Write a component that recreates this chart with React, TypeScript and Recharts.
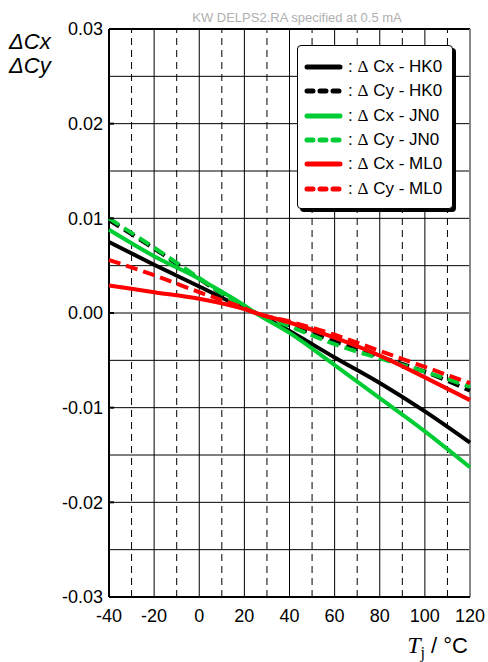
import { LineChart, Line, XAxis, YAxis, ReferenceLine, Legend } from 'recharts';

// temperature points (°C)
const temps = [-40, -20, 0, 20, 25, 40, 60, 80, 100, 120];

const cxHK0 = [0.0075, 0.0051, 0.0028, 0.0005, 0, -0.0019, -0.0047, -0.0074, -0.0104, -0.0137];
const cyHK0 = [0.0098, 0.0068, 0.0036, 0.0006, 0, -0.0013, -0.003, -0.0046, -0.0062, -0.0082];
const cxJN0 = [0.0088, 0.006, 0.0036, 0.0008, 0, -0.0021, -0.0055, -0.009, -0.0125, -0.0163];
const cyJN0 = [0.01, 0.0069, 0.0037, 0.0006, 0, -0.0014, -0.0033, -0.0048, -0.0062, -0.0078];
const cxML0 = [0.0029, 0.0022, 0.0015, 0.0004, 0, -0.001, -0.0026, -0.0045, -0.0068, -0.0092];
const cyML0 = [0.0056, 0.004, 0.0022, 0.0005, 0, -0.0009, -0.0023, -0.004, -0.0057, -0.0074];

const xTicks = [-40, -20, 0, 20, 40, 60, 80, 100, 120];
const yTicks = [-0.03, -0.02, -0.01, 0, 0.01, 0.02, 0.03];
const hGrid = [-0.025, -0.02, -0.015, -0.01, -0.005, 0, 0.005, 0.01, 0.015, 0.02, 0.025];
const vGridSolid = [-20, 0, 20, 40, 60, 80, 100];
const vGridDashed = [-30, -10, 10, 30, 50, 70, 90, 110];

const GREEN = '#00cc33';
const RED = '#ff0000';

const series = [
  { key: 'cxHK0', name: 'Cx - HK0', color: '#000', dashed: false },
  { key: 'cyHK0', name: 'Cy - HK0', color: '#000', dashed: true },
  { key: 'cxJN0', name: 'Cx - JN0', color: GREEN, dashed: false },
  { key: 'cyJN0', name: 'Cy - JN0', color: GREEN, dashed: true },
  { key: 'cxML0', name: 'Cx - ML0', color: RED, dashed: false },
  { key: 'cyML0', name: 'Cy - ML0', color: RED, dashed: true },
];

const data = temps.map((t, i) => ({
  t,
  cxHK0: cxHK0[i],
  cyHK0: cyHK0[i],
  cxJN0: cxJN0[i],
  cyJN0: cyJN0[i],
  cxML0: cxML0[i],
  cyML0: cyML0[i],
}));

const FONT = '"Liberation Sans", Arial, Helvetica, sans-serif';
const SERIF = '"Liberation Serif", "Times New Roman", serif';
const PLOT_LEFT = 109;

// y tick: label right-aligned left of the frame, short thick tick pointing inward
function YTick(props: any) {
  const { y, payload } = props;
  return (
    <g>
      <line x1={PLOT_LEFT} x2={PLOT_LEFT + 5} y1={y} y2={y} stroke="#000" strokeWidth={2} />
      <text x={PLOT_LEFT - 6} y={y} dy="0.355em" textAnchor="end" fontSize={18} fill="#000">
        {Number(payload.value).toFixed(2)}
      </text>
    </g>
  );
}

function LegendBox() {
  return (
    <div
      style={{
        boxSizing: 'border-box',
        width: 156,
        height: 164,
        border: '1.5px solid #000',
        borderRadius: 4,
        background: '#fff',
        boxShadow: '3px 3px 0 #000',
        paddingTop: 9,
        fontFamily: FONT,
        fontSize: 17,
        color: '#000',
      }}
    >
      {series.map((s) => (
        <div key={s.key} style={{ display: 'flex', alignItems: 'center', height: 24.3 }}>
          <svg width={50} height={10} style={{ flex: 'none' }}>
            <line
              x1={9}
              x2={42}
              y1={5}
              y2={5}
              stroke={s.color}
              strokeWidth={5}
              strokeLinecap="round"
              strokeDasharray={s.dashed ? '6 7' : undefined}
            />
          </svg>
          <span style={{ whiteSpace: 'nowrap' }}>
            : <span style={{ fontFamily: SERIF }}>Δ</span> {s.name}
          </span>
        </div>
      ))}
    </div>
  );
}

export default function App() {
  return (
    <div style={{ position: 'absolute', left: 0, top: 0, width: 488, height: 662, background: '#fff' }}>
      <LineChart
        width={488}
        height={662}
        data={data}
        margin={{ top: 29, right: 18, bottom: 0, left: 0 }}
        style={{ fontFamily: FONT }}
      >
        <XAxis
          dataKey="t"
          type="number"
          domain={[-40, 120]}
          ticks={xTicks}
          height={65}
          tickLine={false}
          tickSize={5}
          tickMargin={7}
          axisLine={{ stroke: '#000', strokeWidth: 2 }}
          tick={{ fill: '#000', fontSize: 18 }}
        />
        <YAxis
          type="number"
          domain={[-0.03, 0.03]}
          ticks={yTicks}
          width={PLOT_LEFT}
          tickLine={false}
          axisLine={false}
          tick={<YTick />}
          allowDataOverflow
        />
        {hGrid.map((y) => (
          <ReferenceLine key={'h' + y} y={y} stroke="#000" strokeWidth={1} />
        ))}
        {vGridSolid.map((x) => (
          <ReferenceLine key={'vs' + x} x={x} stroke="#000" strokeWidth={1} />
        ))}
        {vGridDashed.map((x) => (
          <ReferenceLine key={'vd' + x} x={x} stroke="#000" strokeWidth={1} strokeDasharray="7 5" />
        ))}
        <ReferenceLine y={0.03} stroke="#000" strokeWidth={2} />
        <ReferenceLine x={-40} stroke="#000" strokeWidth={2} />
        <ReferenceLine x={120} stroke="#888" strokeWidth={2} />
        {series.map((s) => (
          <Line
            key={s.key}
            dataKey={s.key}
            name={s.name}
            type="monotone"
            stroke={s.color}
            strokeWidth={4}
            strokeDasharray={s.dashed ? '12 6' : undefined}
            dot={false}
            activeDot={false}
            isAnimationActive={false}
          />
        ))}
        <Legend
          layout="vertical"
          align="center"
          verticalAlign="middle"
          wrapperStyle={{ left: 297, top: 45, width: 156, height: 164 }}
          content={() => <LegendBox />}
        />
      </LineChart>
      <svg
        width={488}
        height={662}
        style={{ position: 'absolute', left: 0, top: 0, pointerEvents: 'none' }}
      >
        <text x={297} y={22} textAnchor="middle" fontFamily={FONT} fontSize={13} fill="#b0b0b0">
          KW DELPS2.RA specified at 0.5 mA
        </text>
        <text x={9} y={49} fontFamily={FONT} fontSize={22} fontStyle="italic" fill="#000">
          ΔCx
        </text>
        <text x={9} y={73} fontFamily={FONT} fontSize={22} fontStyle="italic" fill="#000">
          ΔCy
        </text>
        <text x={468} y={653} textAnchor="end" fill="#000">
          <tspan fontFamily={SERIF} fontStyle="italic" fontSize={24}>
            T
          </tspan>
          <tspan fontFamily={SERIF} fontSize={16} dy={5}>
            j
          </tspan>
          <tspan fontFamily={FONT} fontSize={22} dy={-5}>
            {' / °C'}
          </tspan>
        </text>
      </svg>
    </div>
  );
}
